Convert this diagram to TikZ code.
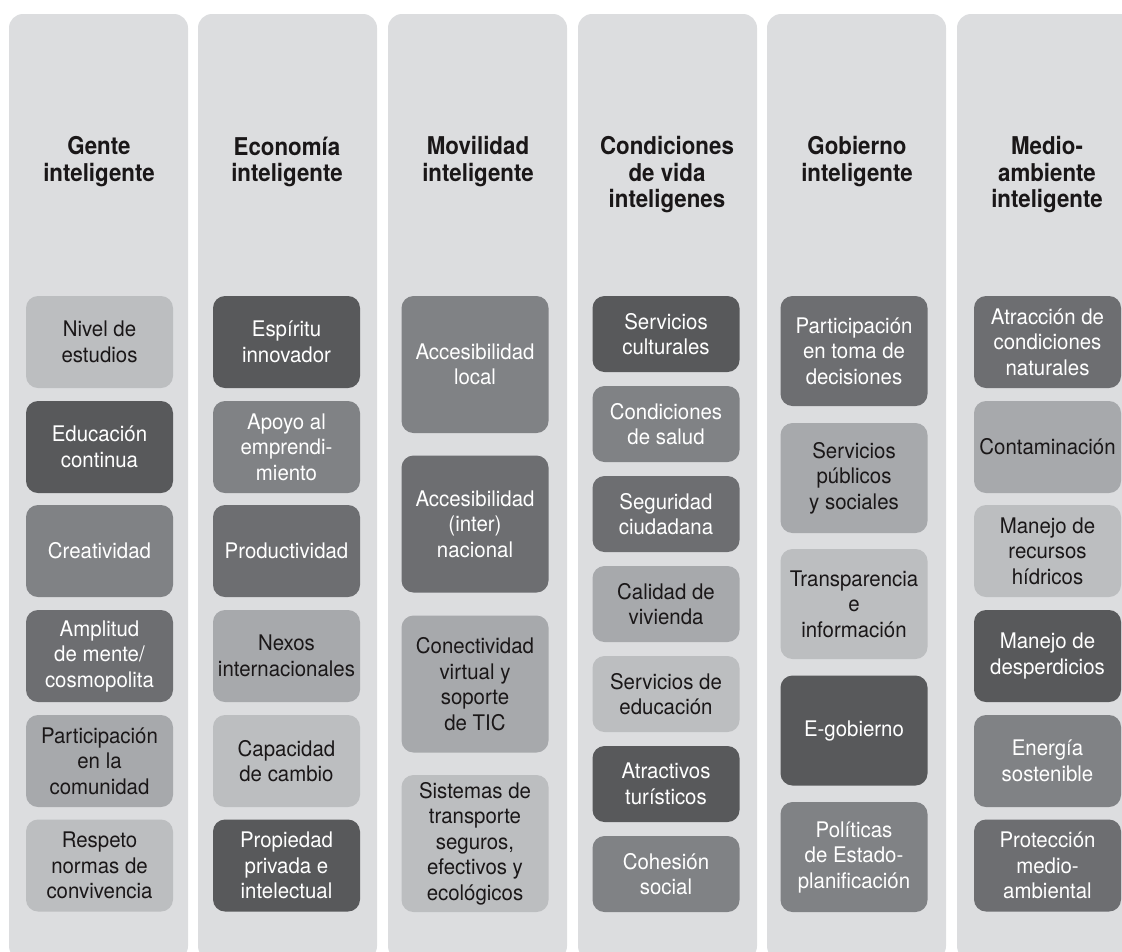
\documentclass[tikz,border=0pt]{standalone}
\usepackage{fontspec}
\setmainfont{TeX Gyre Heros}[FakeStretch=0.95]
\newfontfamily\headfont{TeX Gyre Heros}[FakeStretch=0.91]
\definecolor{colbg}{HTML}{DCDDDF}
\definecolor{cA}{HTML}{BCBEC0}
\definecolor{cB}{HTML}{A7A9AC}
\definecolor{cC}{HTML}{808285}
\definecolor{cD}{HTML}{6D6E71}
\definecolor{cE}{HTML}{58595B}
\definecolor{ink}{HTML}{1A1718}
\tikzset{
  column/.style={fill=colbg, draw=none, rounded corners=14pt},
  head/.style={anchor=north, align=center, inner sep=0pt, text=ink,
    font=\headfont\bfseries\fontsize{24.5}{26.5}\selectfont},
  tbox/.style={draw=none, rounded corners=12pt, align=center, inner sep=0pt,
    minimum width=147pt, font=\fontsize{21.5}{25.5}\selectfont},
  lA/.style={tbox, fill=cA, text=ink},
  lB/.style={tbox, fill=cB, text=ink},
  lC/.style={tbox, fill=cC, text=white},
  lD/.style={tbox, fill=cD, text=white},
  lE/.style={tbox, fill=cE, text=white},
  h92/.style={minimum height=92pt},
  h137/.style={minimum height=137pt},
  h76/.style={minimum height=76pt},
  h110/.style={minimum height=110pt}
}
\begin{document}
\begin{tikzpicture}[x=1pt,y=-1pt]
\useasboundingbox (0,0) rectangle (1122,951);
\clip (0,0) rectangle (1122,951);
% columns
\foreach \cx/\nm in {9/k1,198/k2,388/k3,578/k4,767/k5,957/k6}{
  \path[column] (\cx,14) rectangle ++(179,946);
}
% headers
\node[head] (h1) at (99,136.5) {Gente\\inteligente};
\node[head] (h2) at (287,136.5) {Economía\\inteligente};
\node[head] (h3) at (478,136.5) {Movilidad\\inteligente};
\node[head] (h4) at (667,136.5) {Condiciones\\de vida\\inteligenes};
\node[head] (h5) at (857,136.5) {Gobierno\\inteligente};
\node[head] (h6) at (1047,136.5) {Medio-\\ambiente\\inteligente};
% column 1
\node[lA,h92] (g1) at (99.5,342) {Nivel de\\estudios};
\node[lE,h92] (g2) at (99.5,447) {Educación\\continua};
\node[lC,h92] (g3) at (99.5,551) {Creatividad};
\node[lD,h92] (g4) at (99.5,656) {Amplitud\\de mente/\\cosmopolita};
\node[lB,h92] (g5) at (99.5,761) {Participación\\en la\\comunidad};
\node[lA,h92] (g6) at (99.5,865.5) {Respeto\\normas de\\convivencia};
% column 2
\node[lE,h92] (e1) at (286.5,342) {Espíritu\\innovador};
\node[lC,h92] (e2) at (286.5,447) {Apoyo al\\emprendi-\\miento};
\node[lD,h92] (e3) at (286.5,551) {Productividad};
\node[lB,h92] (e4) at (286.5,656) {Nexos\\internacionales};
\node[lA,h92] (e5) at (286.5,761) {Capacidad\\de cambio};
\node[lE,h92] (e6) at (286.5,865.5) {Propiedad\\privada e\\intelectual};
% column 3
\node[lC,h137] (m1) at (475,364.5) {Accesibilidad\\local};
\node[lD,h137] (m2) at (475,524) {Accesibilidad\\(inter)\\nacional};
\node[lB,h137] (m3) at (475,684) {Conectividad\\virtual y\\soporte\\de TIC};
\node[lA,h137] (m4) at (475,843.5) {Sistemas de\\transporte\\seguros,\\efectivos y\\ecológicos};
% column 4
\node[lE,h76] (v1) at (666,334) {Servicios\\culturales};
\node[lC,h76] (v2) at (666,424) {Condiciones\\de salud};
\node[lD,h76] (v3) at (666,514) {Seguridad\\ciudadana};
\node[lB,h76] (v4) at (666,604) {Calidad de\\vivienda};
\node[lA,h76] (v5) at (666,694) {Servicios de\\educación};
\node[lE,h76] (v6) at (666,784) {Atractivos\\turísticos};
\node[lC,h76] (v7) at (666,874) {Cohesión\\social};
% column 5
\node[lD,h110] (b1) at (854,351) {Participación\\en toma de\\decisiones};
\node[lB,h110] (b2) at (854,478) {Servicios\\públicos\\y sociales};
\node[lA,h110] (b3) at (854,604) {Transparencia\\e\\información};
\node[lE,h110] (b4) at (854,730.5) {E-gobierno};
\node[lC,h110] (b5) at (854,857) {Políticas\\de Estado-\\planificación};
% column 6
\node[lD,h92] (a1) at (1047.5,342) {Atracción de\\condiciones\\naturales};
\node[lB,h92] (a2) at (1047.5,447) {Contaminación};
\node[lA,h92] (a3) at (1047.5,551) {Manejo de\\recursos\\hídricos};
\node[lE,h92] (a4) at (1047.5,656) {Manejo de\\desperdicios};
\node[lC,h92] (a5) at (1047.5,761) {Energía\\sostenible};
\node[lD,h92] (a6) at (1047.5,865.5) {Protección\\medio-\\ambiental};
\end{tikzpicture}
\end{document}
